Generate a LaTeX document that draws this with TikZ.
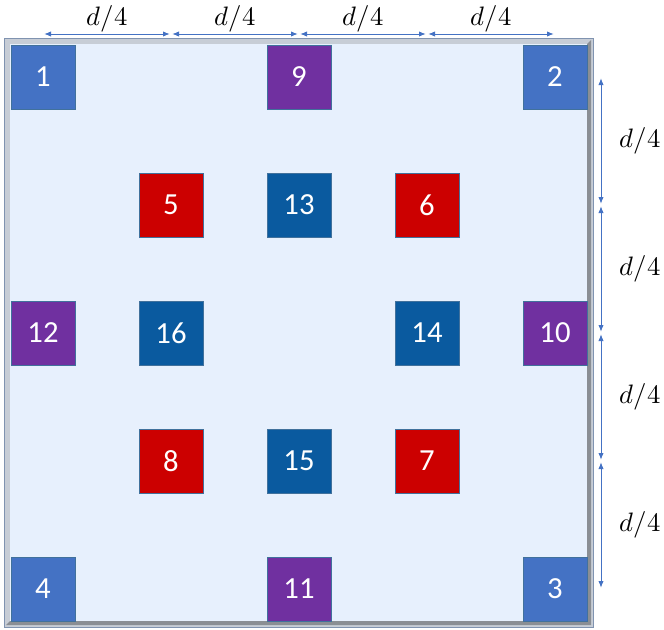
\documentclass[tikz,border=0pt]{standalone}
\usepackage{fontspec}
\usepackage{unicode-math}
\setmainfont{Carlito}
\setmathfont{Latin Modern Math}
\usepackage{tikz}
\usetikzlibrary{arrows.meta,positioning,calc}
\definecolor{cornerblue}{HTML}{4472C4}
\definecolor{midpurple}{HTML}{7030A0}
\definecolor{innerred}{HTML}{CC0000}
\definecolor{coreblue}{HTML}{0A5A9F}
\definecolor{cellline}{HTML}{41719C}
\definecolor{plate}{HTML}{E7F0FD}
\definecolor{rim}{HTML}{C7CDD6}
\definecolor{rimline}{HTML}{8093B0}
\definecolor{rimshade}{HTML}{8A8E94}
\tikzset{
  cell/.style={draw=cellline, thin, minimum size=48pt, inner sep=0pt,
               text=white, font=\fontsize{23}{26}\selectfont},
  corner/.style={cell, fill=cornerblue},
  edgemid/.style={cell, fill=midpurple},
  ring/.style={cell, fill=innerred},
  core/.style={cell, fill=coreblue},
  dim/.style={{Latex[length=5pt,width=4pt]}-{Latex[length=5pt,width=4pt]},
              draw=cornerblue, semithick, shorten <=1pt, shorten >=1pt},
  dimlabel/.style={font=\fontsize{20}{24}\selectfont},
}
\begin{document}
\begin{tikzpicture}[x=0.75pt, y=-0.75pt]
\useasboundingbox (0,0) rectangle (664,629);

% frame of the plate
\fill[rim, draw=rimline] (4,38) rectangle (593,627);
\fill[rimshade] (587,44) -- (591,40) -- (591,625) -- (6,625) -- (10,621) -- (587,621) -- cycle;
\fill[plate] (10,44) rectangle (587,621);

% cells, row by row
\node[corner]  (c1)  at (43,77)   {1};
\node[edgemid] (c9)  at (299,77)  {9};
\node[corner]  (c2)  at (555,77)  {2};

\node[ring]    (c5)  at (171,205) {5};
\node[core]    (c13) at (299,205) {13};
\node[ring]    (c6)  at (427,205) {6};

\node[edgemid] (c12) at (43,333)  {12};
\node[core]    (c16) at (171,333) {16};
\node[core]    (c14) at (427,333) {14};
\node[edgemid] (c10) at (555,333) {10};

\node[ring]    (c8)  at (171,461) {8};
\node[core]    (c15) at (299,461) {15};
\node[ring]    (c7)  at (427,461) {7};

\node[corner]  (c4)  at (43,589)  {4};
\node[edgemid] (c11) at (299,589) {11};
\node[corner]  (c3)  at (555,589) {3};

% spacing marks along the top and the right side
\foreach \i/\x in {0/43,1/171,2/299,3/427,4/555}
  \coordinate (h\i) at (\x,34);
\foreach \i/\y in {0/77,1/205,2/333,3/461,4/589}
  \coordinate (v\i) at (601,\y);

\foreach \i [evaluate=\i as \j using int(\i+1)] in {0,...,3}{
  \draw[dim] (h\i) -- node[dimlabel, above=-2pt] {$d/4$} (h\j);
  \draw[dim] (v\i) -- node[dimlabel, right=10pt] {$d/4$} (v\j);
}
\end{tikzpicture}
\end{document}
